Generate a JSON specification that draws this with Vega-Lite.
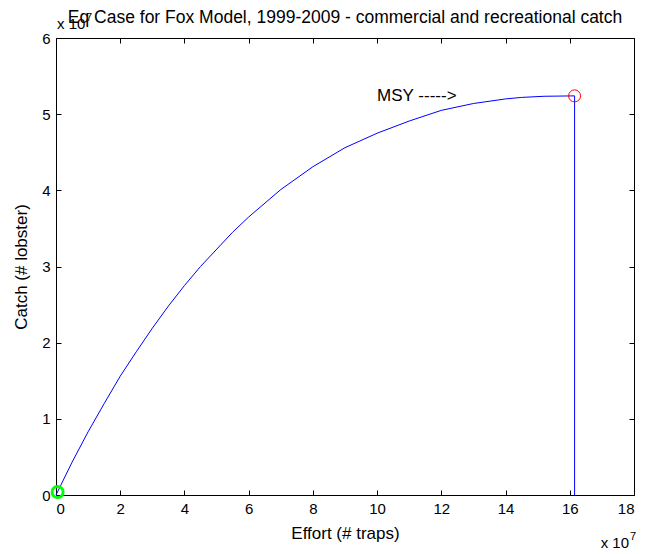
{
  "$schema": "https://vega.github.io/schema/vega-lite/v6.json",
  "width": 578,
  "height": 457,
  "autosize": {"type": "none"},
  "padding": {"left": 56, "top": 38, "right": 11, "bottom": 59},
  "background": "white",
  "config": {
    "view": {"stroke": null},
    "font": "Liberation Sans",
    "axis": {
      "grid": false,
      "domainColor": "black",
      "tickColor": "black",
      "labelColor": "black",
      "titleColor": "black",
      "labelFont": "Liberation Sans",
      "titleFont": "Liberation Sans",
      "labelFontSize": 15,
      "titleFontSize": 17,
      "titleFontWeight": "normal",
      "tickSize": -5,
      "domainWidth": 1,
      "tickWidth": 1
    }
  },
  "datasets": {
    "curve": [
      {"E": 0, "C": 0},
      {"E": 0.5, "C": 0.43},
      {"E": 1, "C": 0.83},
      {"E": 1.5, "C": 1.2},
      {"E": 2, "C": 1.56},
      {"E": 2.5, "C": 1.88},
      {"E": 3, "C": 2.19},
      {"E": 3.5, "C": 2.48},
      {"E": 4, "C": 2.75},
      {"E": 4.5, "C": 3.0},
      {"E": 5.5, "C": 3.45},
      {"E": 6, "C": 3.65},
      {"E": 7, "C": 4.01},
      {"E": 8, "C": 4.31},
      {"E": 9, "C": 4.56},
      {"E": 10, "C": 4.75},
      {"E": 11, "C": 4.91},
      {"E": 12, "C": 5.05},
      {"E": 13, "C": 5.14},
      {"E": 14, "C": 5.2},
      {"E": 14.5, "C": 5.22},
      {"E": 15.2, "C": 5.235},
      {"E": 16.15, "C": 5.24}
    ],
    "msy": [{"E": 16.15, "C": 5.24, "C0": 0}],
    "start": [{"E": 0.05, "C": 0.04}],
    "msylabel": [{"E": 10.0, "C": 5.24, "label": "MSY ----->"}],
    "exp": [{"E": 0, "C": 6, "E2": 18, "Cb": 0, "base": "x 10", "sup": "7"}],
    "ttl": [{"E": 9, "C": 6, "text": "Eq Case for Fox Model, 1999-2009 - commercial and recreational catch"}]
  },
  "layer": [
    {
      "data": {"name": "curve"},
      "mark": {"type": "line", "color": "#0000ff", "strokeWidth": 1},
      "encoding": {
        "x": {"field": "E", "type": "quantitative", "scale": {"domain": [0, 18], "nice": false},
          "axis": {"values": [0, 2, 4, 6, 8, 10, 12, 14, 16, 18], "title": "Effort (# traps)", "labelPadding": 11, "titlePadding": 9}},
        "y": {"field": "C", "type": "quantitative", "scale": {"domain": [0, 6], "nice": false},
          "axis": {"values": [0, 1, 2, 3, 4, 5, 6], "title": "Catch (# lobster)", "labelPadding": 11, "titlePadding": 11}},
        "order": {"field": "E", "type": "quantitative"}
      }
    },
    {
      "data": {"name": "msy"},
      "mark": {"type": "rule", "color": "#0000ff", "strokeWidth": 1},
      "encoding": {
        "x": {"field": "E", "type": "quantitative", "scale": {"domain": [0, 18], "nice": false}, "axis": null},
        "y": {"field": "C", "type": "quantitative", "scale": {"domain": [0, 6], "nice": false}, "axis": null},
        "y2": {"field": "C0"}
      }
    },
    {
      "data": {"name": "msy"},
      "mark": {"type": "point", "shape": "circle", "filled": false, "color": "#ff0000", "strokeWidth": 1, "size": 144, "opacity": 1},
      "encoding": {
        "x": {"field": "E", "type": "quantitative", "scale": {"domain": [0, 18], "nice": false},
          "axis": {"orient": "top", "values": [0, 2, 4, 6, 8, 10, 12, 14, 16, 18], "labels": false, "title": null}},
        "y": {"field": "C", "type": "quantitative", "scale": {"domain": [0, 6], "nice": false},
          "axis": {"orient": "right", "values": [0, 1, 2, 3, 4, 5, 6], "labels": false, "title": null}}
      }
    },
    {
      "data": {"name": "start"},
      "mark": {"type": "point", "shape": "circle", "filled": false, "color": "#00ff00", "strokeWidth": 3, "size": 121, "opacity": 1},
      "encoding": {
        "x": {"field": "E", "type": "quantitative", "scale": {"domain": [0, 18], "nice": false}, "axis": null},
        "y": {"field": "C", "type": "quantitative", "scale": {"domain": [0, 6], "nice": false}, "axis": null}
      }
    },
    {
      "data": {"name": "msylabel"},
      "mark": {"type": "text", "align": "left", "baseline": "middle", "fontSize": 17, "color": "black", "font": "Liberation Sans"},
      "encoding": {
        "x": {"field": "E", "type": "quantitative", "scale": {"domain": [0, 18], "nice": false}, "axis": null},
        "y": {"field": "C", "type": "quantitative", "scale": {"domain": [0, 6], "nice": false}, "axis": null},
        "text": {"field": "label"}
      }
    },
    {
      "data": {"name": "exp"},
      "mark": {"type": "text", "align": "left", "baseline": "alphabetic", "fontSize": 15, "color": "black", "dy": -9, "dx": 1},
      "encoding": {
        "x": {"field": "E", "type": "quantitative", "scale": {"domain": [0, 18], "nice": false}, "axis": null},
        "y": {"field": "C", "type": "quantitative", "scale": {"domain": [0, 6], "nice": false}, "axis": null},
        "text": {"field": "base"}
      }
    },
    {
      "data": {"name": "exp"},
      "mark": {"type": "text", "align": "left", "baseline": "alphabetic", "fontSize": 11, "color": "black", "dy": -17, "dx": 30},
      "encoding": {
        "x": {"field": "E", "type": "quantitative", "scale": {"domain": [0, 18], "nice": false}, "axis": null},
        "y": {"field": "C", "type": "quantitative", "scale": {"domain": [0, 6], "nice": false}, "axis": null},
        "text": {"field": "sup"}
      }
    },
    {
      "data": {"name": "ttl"},
      "mark": {"type": "text", "align": "center", "baseline": "alphabetic", "fontSize": 17.5, "color": "black", "dy": -15},
      "encoding": {
        "x": {"field": "E", "type": "quantitative", "scale": {"domain": [0, 18], "nice": false}, "axis": null},
        "y": {"field": "C", "type": "quantitative", "scale": {"domain": [0, 6], "nice": false}, "axis": null},
        "text": {"field": "text"}
      }
    },
    {
      "data": {"name": "exp"},
      "mark": {"type": "text", "align": "right", "baseline": "alphabetic", "fontSize": 15, "color": "black", "dy": 53, "dx": -5},
      "encoding": {
        "x": {"field": "E2", "type": "quantitative", "scale": {"domain": [0, 18], "nice": false}, "axis": null},
        "y": {"field": "Cb", "type": "quantitative", "scale": {"domain": [0, 6], "nice": false}, "axis": null},
        "text": {"field": "base"}
      }
    },
    {
      "data": {"name": "exp"},
      "mark": {"type": "text", "align": "left", "baseline": "alphabetic", "fontSize": 11, "color": "black", "dy": 45, "dx": -4},
      "encoding": {
        "x": {"field": "E2", "type": "quantitative", "scale": {"domain": [0, 18], "nice": false}, "axis": null},
        "y": {"field": "Cb", "type": "quantitative", "scale": {"domain": [0, 6], "nice": false}, "axis": null},
        "text": {"field": "sup"}
      }
    }
  ],
  "resolve": {"axis": {"x": "independent", "y": "independent"}}
}
